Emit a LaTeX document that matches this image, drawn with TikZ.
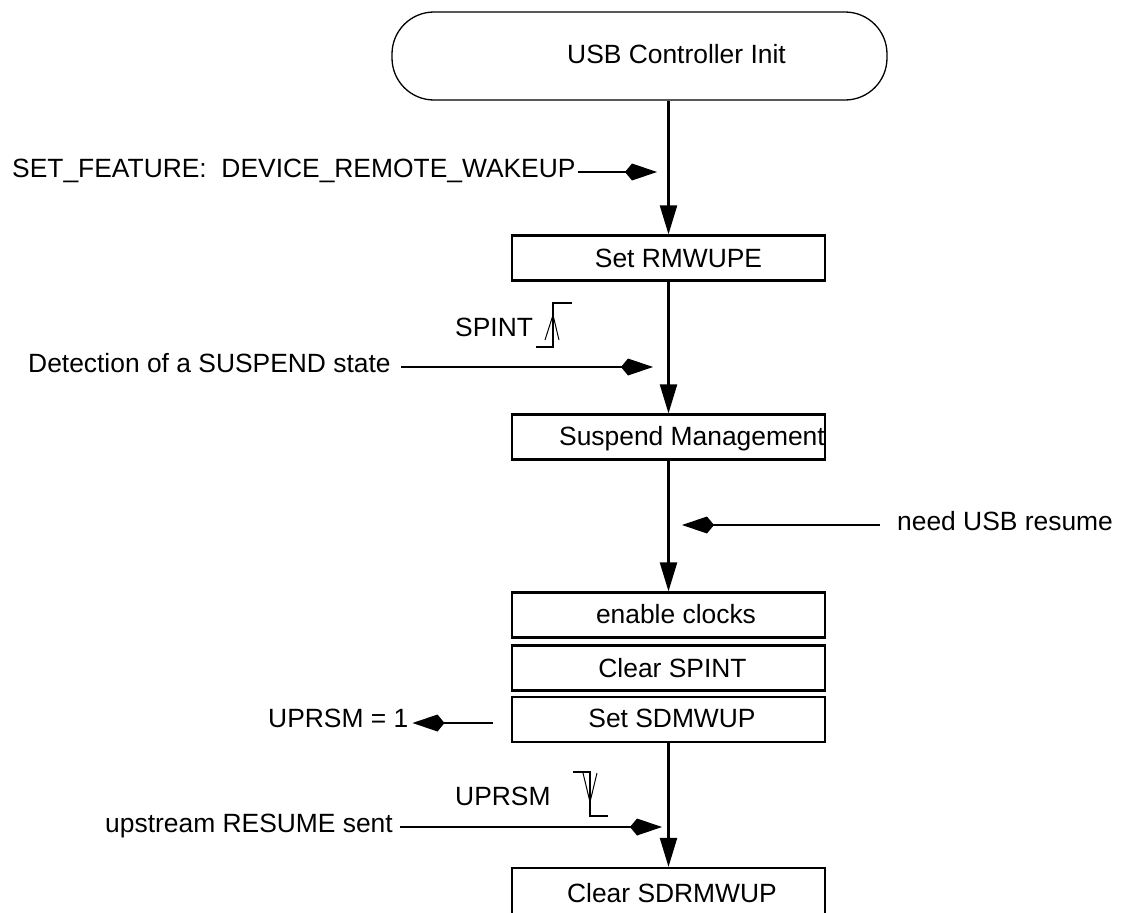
\documentclass[tikz,border=0pt]{standalone}
\usepackage{fontspec}
\setmainfont{Liberation Sans}
\usetikzlibrary{arrows.meta}
\begin{document}
\begin{tikzpicture}[x=1pt,y=-1pt,
  txt/.style={font=\fontsize{26.4}{30}\selectfont, inner sep=0pt},
  stepbox/.style={draw, line width=2.2pt, minimum width=313pt, minimum height=45pt, inner sep=0pt},
  startbox/.style={draw, line width=1.3pt, rounded corners=42pt, minimum width=495pt, minimum height=88pt, inner sep=0pt},
  conn/.style={line width=2.2pt},
  down/.style={conn, -{Triangle[length=29pt,width=17pt]}},
  side/.style={conn, -{Kite[length=32pt,width=17pt,inset=7pt]}},
  wave/.style={line width=2pt},
  edge/.style={line width=1pt}]
\useasboundingbox (0,0) rectangle (1125,913);

% boxes
\node[startbox] (start) at (639.5,56) {};
\node[txt, anchor=base] (startt) at (676.5,63) {USB Controller Init};

\node[stepbox] (rmw) at (668.5,258) {};
\node[txt, anchor=base] (rmwt) at (678.5,267) {Set RMWUPE};

\node[stepbox] (susp) at (668.5,437) {};
\node[txt, anchor=base] (suspt) at (692,445) {Suspend Management};

\node[stepbox] (clk) at (668.5,615) {};
\node[txt, anchor=base] (clkt) at (676,623) {enable clocks};

\node[stepbox] (spint) at (668.5,668) {};
\node[txt, anchor=base] (spintt) at (672.5,677) {Clear SPINT};

\node[stepbox] (sdm) at (668.5,719.5) {};
\node[txt, anchor=base] (sdmt) at (672,727) {Set SDMWUP};

\node[stepbox, minimum height=80pt] (last) at (668.5,908) {};
\node[txt, anchor=base] (lastt) at (672,902) {Clear SDRMWUP};

% main flow
\draw[down] (rmw.north |- start.south) -- (rmw.north);
\draw[down] (rmw) -- (susp);
\draw[down] (susp) -- (clk);
\draw[down] (sdm) -- (last);

% SET_FEATURE
\node[txt, anchor=base west] (sf) at (12,177) {SET\_FEATURE:\ \ DEVICE\_REMOTE\_WAKEUP};
\coordinate (sftip) at (657,172);
\draw[side] ([xshift=2pt]sf.east |- sftip) -- (sftip);

% SPINT
\node[txt, anchor=base west] (spl) at (455,336) {SPINT};
\draw[wave] (536,347) -- (553,347) -- (553,303) -- (572,303);
\draw[edge] (545,340) -- (553,315) -- (559,340);

% Detection
\node[txt, anchor=base west] (det) at (28,372) {Detection of a SUSPEND state};
\coordinate (dettip) at (653,367);
\draw[side] ([xshift=10pt]det.east |- dettip) -- (dettip);

% need USB resume
\node[txt, anchor=base west] (need) at (897,530) {need USB resume};
\coordinate (needs) at (880,525);
\coordinate (needtip) at (682,525);
\draw[side] (needs) -- (needtip);

% UPRSM = 1
\node[txt, anchor=base west] (up1) at (268,727) {UPRSM = 1};
\coordinate (up1s) at (493,723);
\draw[side] (up1s) -- ([xshift=4pt]up1.east |- up1s);

% UPRSM
\node[txt, anchor=base west] (upl) at (455,805) {UPRSM};
\draw[wave] (573,772) -- (590,772) -- (590,816) -- (608,816);
\draw[edge] (583,773) -- (590,802) -- (597,773);

% upstream RESUME sent
\node[txt, anchor=base east] (ups) at (393,832) {upstream RESUME sent};
\coordinate (upstip) at (662,827);
\draw[side] ([xshift=7pt]ups.east |- upstip) -- (upstip);
\end{tikzpicture}
\end{document}
